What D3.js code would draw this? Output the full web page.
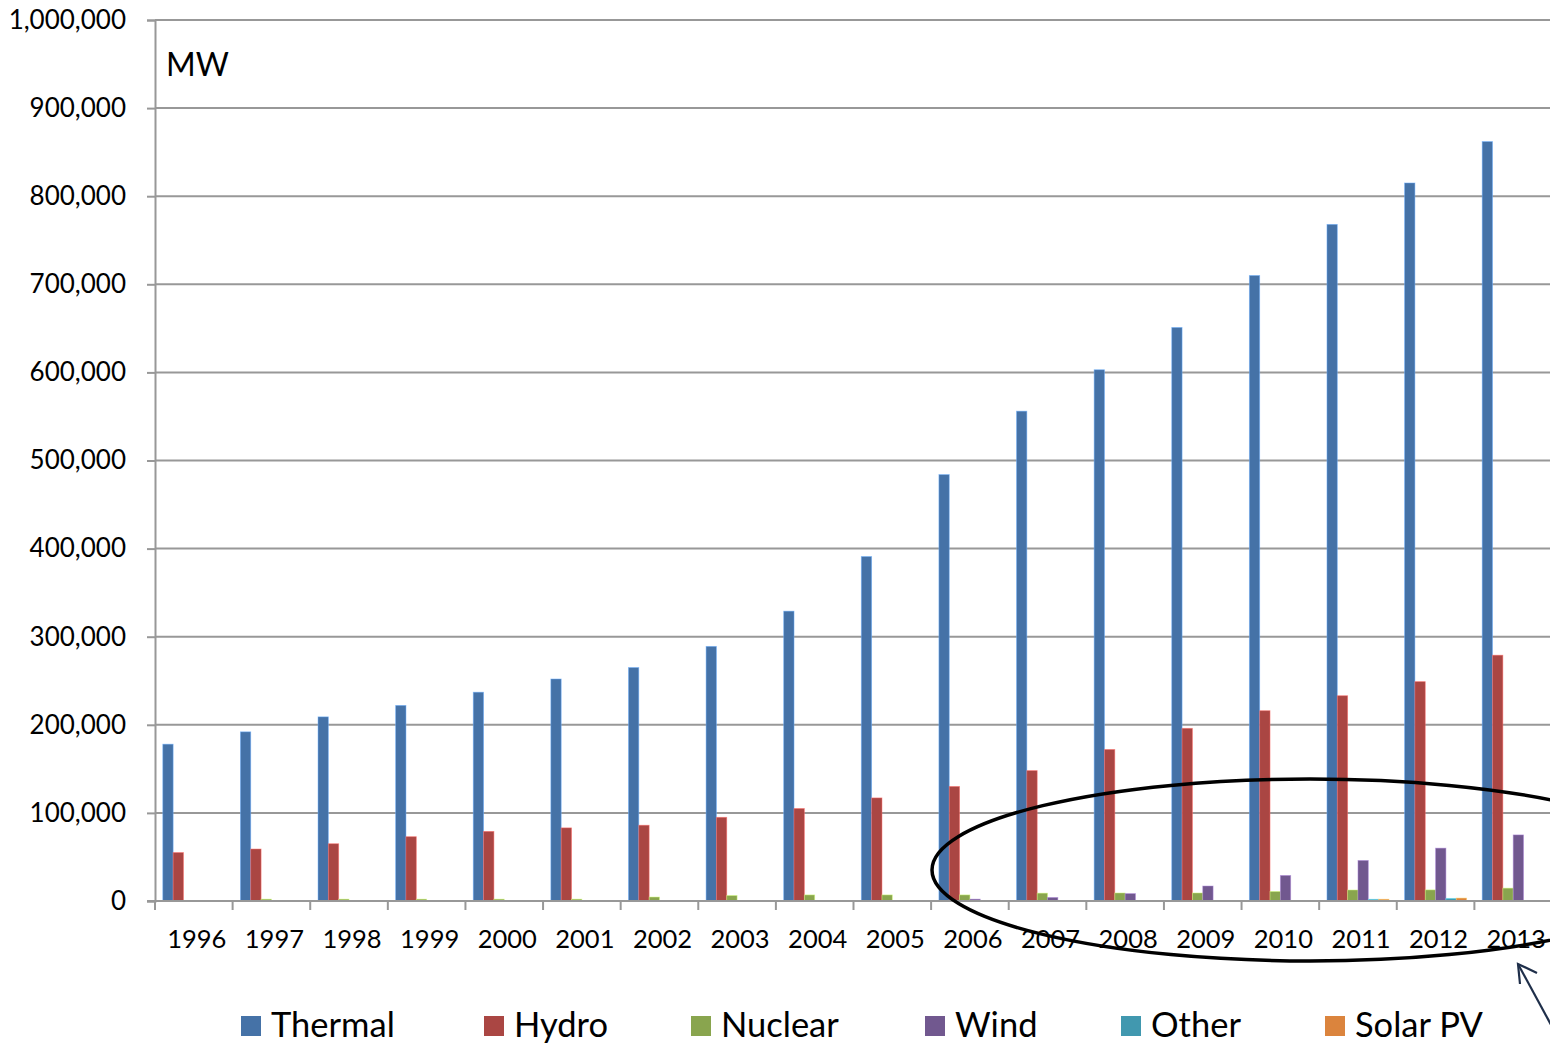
<!DOCTYPE html>
<html><head><meta charset="utf-8">
<script src="https://cdn.jsdelivr.net/npm/d3@7"></script>
<style>html,body{margin:0;padding:0;background:#fff;overflow:hidden}</style>
</head><body>
<svg id="c" width="1550" height="1045"></svg>
<script>
const years = ["1996","1997","1998","1999","2000","2001","2002","2003","2004","2005","2006","2007","2008","2009","2010","2011","2012","2013"];
const seriesNames = ["Thermal","Hydro","Nuclear","Wind","Other","Solar PV"];
const colors = ["#4572a7","#aa4643","#89a54e","#71588f","#4198af","#db843d"];
const thermal = [178000,192000,209000,222000,237000,252000,265000,289000,329000,391000,484000,556000,603000,651000,710000,768000,815000,862000];
const hydro   = [55000,59000,65000,73000,79000,83000,86000,95000,105000,117000,130000,148000,172000,196000,216000,233000,249000,279000];
const nuclear = [0,2100,2100,2100,2100,2100,4500,6200,6900,6900,6900,8900,9100,9100,10800,12500,12600,14600];
const wind    = [0,0,0,0,0,0,0,0,0,0,2100,4000,8400,17000,29000,46000,60000,75000];
const other   = [0,0,0,0,0,0,0,0,0,0,0,0,0,0,0,2000,3000,0];
const solar   = [0,0,0,0,0,0,0,0,0,0,0,0,0,0,0,2000,3300,0];
const yTicks = [0,100000,200000,300000,400000,500000,600000,700000,800000,900000,1000000];
const unitLabel = "MW";

const values = [thermal,hydro,nuclear,wind,other,solar];
const svg = d3.select("#c");
const L = 155, R = 1552, T = 20, B = 901;
const font = "Lato, 'Open Sans', sans-serif";
const gridColor = "#989898";

const x = d3.scaleBand().domain(years).range([L, R]).paddingInner(0).paddingOuter(0);
const gap = 7.8;
const xs = d3.scaleBand().domain(seriesNames).range([gap, x.bandwidth() - gap]).padding(0);
const y = d3.scaleLinear().domain([0, 1000000]).range([B, T]);

// gridlines
svg.append("g").selectAll("line").data(yTicks.filter(d => d > 0)).join("line")
  .attr("x1", L).attr("x2", 1550).attr("y1", d => y(d)).attr("y2", d => y(d))
  .attr("stroke", gridColor).attr("stroke-width", 2);

// y axis
const yAxis = svg.append("g").attr("transform", `translate(${L},0)`)
  .call(d3.axisLeft(y).tickValues(yTicks).tickSize(8).tickPadding(21).tickFormat(d3.format(",")));
yAxis.select(".domain").attr("stroke", gridColor).attr("stroke-width", 2);
yAxis.selectAll(".tick line").attr("stroke", gridColor).attr("stroke-width", 2);
yAxis.selectAll("text").attr("font-family", font).attr("font-size", 26).attr("fill", "#000");

// bars
const groups = svg.append("g").selectAll("g").data(years).join("g")
  .attr("transform", d => `translate(${x(d)},0)`);
groups.selectAll("rect").data((yr, i) => seriesNames.map((s, k) => ({s, k, v: values[k][i]}))).join("rect")
  .attr("x", d => xs(d.s)).attr("width", xs.bandwidth())
  .attr("y", d => y(d.v)).attr("height", d => y(0) - y(d.v))
  .attr("fill", d => colors[d.k])
  .attr("stroke", d => d3.color(colors[d.k]).brighter(1.2)).attr("stroke-opacity", 0.6).attr("stroke-width", 0.8);

// x axis
svg.append("line").attr("x1", L - 8).attr("x2", 1550).attr("y1", B).attr("y2", B)
  .attr("stroke", gridColor).attr("stroke-width", 2);
const boundaries = years.map(d => x(d));
svg.append("g").selectAll("line").data(boundaries).join("line")
  .attr("x1", d => d).attr("x2", d => d).attr("y1", B).attr("y2", B + 9)
  .attr("stroke", gridColor).attr("stroke-width", 2);
svg.append("g").selectAll("text").data(years).join("text")
  .attr("x", d => x(d) + x.bandwidth()/2 + 3).attr("y", 948)
  .attr("text-anchor", "middle").attr("font-family", font).attr("font-size", 25.5).attr("fill", "#000")
  .text(d => d);

// unit label
svg.append("text").attr("x", 166).attr("y", 76).attr("font-family", font).attr("font-size", 32).attr("fill", "#000").text(unitLabel);

// legend
const legendX = [241, 484, 691, 925, 1121, 1325];
const lg = svg.append("g").selectAll("g").data(seriesNames).join("g")
  .attr("transform", (d, i) => `translate(${legendX[i]},1016)`);
lg.append("rect").attr("width", 20).attr("height", 20).attr("fill", (d, i) => colors[i]);
lg.append("text").attr("x", 30).attr("y", 21).attr("font-family", font).attr("font-size", 34.5).attr("fill", "#000").text(d => d);

// annotation: ellipse and arrow
svg.append("ellipse").attr("cx", 1310).attr("cy", 870).attr("rx", 378).attr("ry", 91)
  .attr("fill", "none").attr("stroke", "#000").attr("stroke-width", 3.5);
const ann = svg.append("g").attr("stroke", "#1f2f4a").attr("stroke-width", 2.2).attr("fill", "none");
ann.append("line").attr("x1", 1518).attr("y1", 964).attr("x2", 1562).attr("y2", 1045);
ann.append("polyline").attr("points", "1537,973 1518,964 1520,984");
</script>
</body></html>
